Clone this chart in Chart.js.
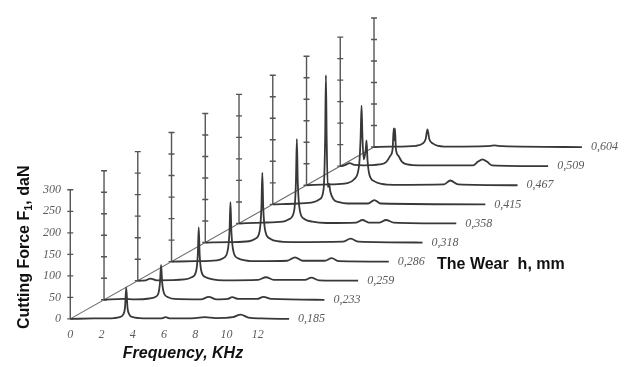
<!DOCTYPE html>
<html>
<head>
<meta charset="utf-8">
<script src="https://cdn.jsdelivr.net/npm/chart.js@4/dist/chart.umd.min.js"></script>
<style>
  body { margin: 0; background: #fff; }
  #wrap { width: 637px; height: 367px; position: relative; }
</style>
</head>
<body>
<div id="wrap"><canvas id="chart"></canvas></div>
<script>
// Wear values (one spectrum row each), front axis ticks
const wearLabels = ['0,185', '0,233', '0,259', '0,286', '0,318', '0,358', '0,415', '0,467', '0,509', '0,604'];
const freqTicks = [0, 2, 4, 6, 8, 10, 12];
const forceTicks = [0, 50, 100, 150, 200, 250, 300];

// Spectra: [frequency kHz, force daN]
const row0185 = [[0,0],[1.5,1],[2.8,2],[3.15,4],[3.38,10],[3.5,26],[3.58,73],[3.66,26],[3.78,10],[4.0,4],[4.4,2],[5.8,1],[6.1,4],[6.4,1],[8.0,2],[8.6,4],[9.3,2],[10.4,4],[10.9,10],[11.4,3],[12.2,1],[14.0,0]];
const row0233 = [[0,0],[1.2,2],[2.0,1],[2.9,3],[3.25,6],[3.47,14],[3.58,40],[3.65,81],[3.72,40],[3.85,14],[4.1,6],[4.5,2],[6.2,1],[6.7,7],[7.2,1],[7.9,2],[8.2,6],[8.6,2],[9.8,2],[10.2,7],[10.7,2],[14.1,0]];
const row0259 = [[0,0],[0.5,1],[0.8,5],[1.2,1],[3.0,3],[3.45,8],[3.72,20],[3.84,60],[3.9,124],[3.96,60],[4.08,20],[4.35,8],[4.8,3],[5.5,1],[7.7,2],[8.2,8],[8.7,2],[10.7,2],[11.1,7],[11.6,1],[14.1,0]];
const row0286 = [[0,0],[1.5,1],[2.9,3],[3.3,8],[3.57,22],[3.71,70],[3.77,138],[3.83,70],[3.97,22],[4.25,8],[4.7,3],[5.5,1],[7.4,2],[7.9,10],[8.4,2],[9.8,2],[10.25,8],[10.7,1],[13.9,0]];
const row0318 = [[0,0],[1.6,1],[2.8,3],[3.2,9],[3.47,25],[3.59,80],[3.65,162],[3.71,80],[3.85,25],[4.15,9],[4.6,3],[5.5,1],[8.8,2],[9.3,9],[9.8,2],[13.9,0]];
const row0358 = [[0,0],[1.5,2],[2.8,4],[3.2,10],[3.52,28],[3.64,95],[3.7,196],[3.76,95],[3.9,28],[4.2,10],[4.7,4],[5.6,1],[7.5,2],[7.9,8],[8.3,2],[9.0,2],[9.4,8],[9.9,2],[13.9,0]];
const row0415 = [[0,0],[1.6,2],[2.6,5],[3.0,12],[3.25,35],[3.35,150],[3.4,300],[3.45,150],[3.52,40],[3.6,48],[3.68,30],[3.88,12],[4.25,5],[4.8,2],[6.1,2],[6.5,10],[6.9,2],[13.6,0]];
const row0467 = [[0,0],[1.5,2],[2.6,5],[3.05,14],[3.36,45],[3.46,110],[3.52,185],[3.58,110],[3.66,60],[3.78,80],[3.84,104],[3.9,60],[4.02,25],[4.35,9],[4.8,3],[5.6,1],[8.8,2],[9.2,11],[9.7,2],[13.5,0]];
const row0509 = [[0,0],[0.35,3],[0.6,7],[0.9,3],[1.5,2],[2.5,4],[2.95,10],[3.2,24],[3.35,40],[3.42,88],[3.46,60],[3.5,88],[3.56,40],[3.72,24],[3.95,10],[4.3,4],[5,2],[8.5,2],[8.8,10],[9.1,16],[9.4,10],[9.7,2],[13.3,0]];
const row0604 = [[0,0],[1,1],[2.7,3],[3.1,8],[3.3,18],[3.42,41],[3.54,18],[3.78,8],[4.1,3],[5,1],[7.2,2],[7.7,4],[8.2,2],[13.3,0]];
const spectra = [row0185, row0233, row0259, row0286, row0318, row0358, row0415, row0467, row0509, row0604];

// Oblique projection: pixels per unit and per-row shift
const W = 637, H = 367;
const PX_PER_KHZ = 15.9, PX_PER_DAN = 0.4433;
const ORIGIN_X = 66, ORIGIN_Y = 323;
const ROW_DX = 34.33, ROW_DY = 19.67;
const offK = ROW_DX / PX_PER_KHZ;
const offF = ROW_DY / PX_PER_DAN;

const datasets = [];

spectra.forEach((rows, r) => {
    datasets.push({
        data: rows.map(p => ({ x: p[0] + r * offK, y: p[1] + r * offF })),
        borderColor: '#383838',
        borderWidth: 1.8,
        pointRadius: 0,
        cubicInterpolationMode: 'monotone'
    });
    // force stick with tick marks at the start of each row
    datasets.push({
        data: forceTicks.map(v => ({ x: r * offK, y: v + r * offF })),
        borderColor: '#555',
        borderWidth: 1.4,
        pointStyle: 'line',
        pointRadius: 3,
        pointBorderWidth: 1.4,
        pointBorderColor: '#555'
    });
});

// diagonal through the row origins
datasets.push({
    data: [{ x: 0, y: 0 }, { x: (spectra.length - 1) * offK, y: (spectra.length - 1) * offF }],
    borderColor: '#666',
    borderWidth: 1.1,
    pointRadius: 0
});

const labelsPlugin = {
    id: 'labels',
    afterDatasetsDraw(chart) {
        const ctx = chart.ctx;
        const xs = chart.scales.x, ys = chart.scales.y;
        ctx.save();
        ctx.fillStyle = '#5a5a5a';
        ctx.font = "italic 12px 'Liberation Serif'";
        ctx.textBaseline = 'middle';

        // front frequency ticks
        ctx.textAlign = 'center';
        freqTicks.forEach(t => ctx.fillText(String(t), xs.getPixelForValue(t), ORIGIN_Y + 12));

        // force ticks
        ctx.textAlign = 'right';
        forceTicks.forEach(t => ctx.fillText(String(t), ORIGIN_X - 5, ys.getPixelForValue(t)));

        // wear labels at the end of each row
        ctx.textAlign = 'left';
        spectra.forEach((rows, r) => {
            const last = rows[rows.length - 1];
            ctx.fillText(wearLabels[r], xs.getPixelForValue(last[0] + r * offK) + 9, ys.getPixelForValue(r * offF));
        });

        // axis titles
        ctx.fillStyle = '#111';
        ctx.font = "bold italic 16px 'Liberation Sans'";
        ctx.textAlign = 'center';
        ctx.fillText('Frequency, KHz', 183, 354);

        ctx.font = "bold 16px 'Liberation Sans'";
        ctx.textAlign = 'left';
        ctx.fillText('The Wear  h, mm', 437, 265);

        // rotated title with subscript
        ctx.translate(29, 329);
        ctx.rotate(-Math.PI / 2);
        ctx.textBaseline = 'alphabetic';
        const a = 'Cutting Force F', b = ', daN';
        ctx.fillText(a, 0, 0);
        let w = ctx.measureText(a).width;
        ctx.font = "bold 11px 'Liberation Sans'";
        ctx.fillText('1', w, 3);
        w += ctx.measureText('1').width;
        ctx.font = "bold 16px 'Liberation Sans'";
        ctx.fillText(b, w, 0);
        ctx.restore();
    }
};

new Chart(document.getElementById('chart'), {
    type: 'line',
    data: { datasets },
    options: {
        responsive: true,
        maintainAspectRatio: false,
        animation: false,
        layout: { padding: 0 },
        plugins: { legend: { display: false }, tooltip: { enabled: false } },
        scales: {
            x: { type: 'linear', display: false, min: -ORIGIN_X / PX_PER_KHZ, max: (W - ORIGIN_X) / PX_PER_KHZ },
            y: { type: 'linear', display: false, min: -(H - ORIGIN_Y) / PX_PER_DAN, max: ORIGIN_Y / PX_PER_DAN }
        }
    },
    plugins: [labelsPlugin]
});
</script>
</body>
</html>
